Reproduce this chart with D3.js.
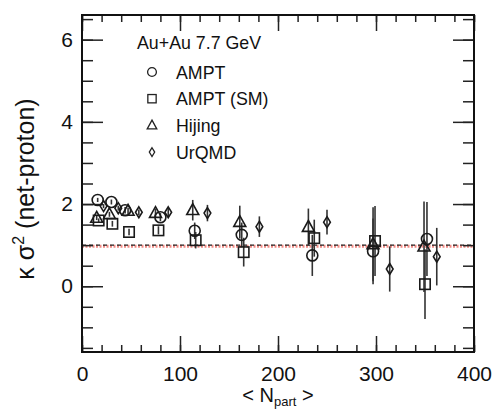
<!DOCTYPE html>
<html><head><meta charset="utf-8">
<script src="https://cdn.jsdelivr.net/npm/d3@7"></script>
<style>body{margin:0;background:#fff}svg{display:block}text{font-family:"Liberation Sans",Arial,sans-serif;fill:#111}</style>
</head><body>
<svg id="c" width="495" height="412"></svg>
<script>
// ---- data ----
const amptN   = [16, 30, 44, 80, 115, 163, 235, 297, 352];
const amptV   = [2.1, 2.05, 1.85, 1.68, 1.35, 1.25, 0.75, 0.85, 1.15];
const amptE   = [0.05, 0.06, 0.08, 0.1, 0.2, 0.3, 0.5, 0.8, 0.9];

const smN     = [17, 31, 48, 78, 116, 165, 237, 299, 350];
const smV     = [1.6, 1.52, 1.32, 1.36, 1.12, 0.83, 1.17, 1.1, 0.05];
const smE     = [0.05, 0.07, 0.08, 0.1, 0.2, 0.35, 0.45, 0.85, 0.85];

const hijN    = [15, 28, 47, 75, 113, 161, 231, 297, 349];
const hijV    = [1.66, 1.75, 1.83, 1.78, 1.85, 1.56, 1.44, 1.02, 0.96];
const hijE    = [0.05, 0.06, 0.08, 0.1, 0.25, 0.4, 0.45, 0.9, 1.1];

const urqN    = [22, 37, 58, 88, 128, 181, 250, 314, 362];
const urqV    = [1.95, 1.9, 1.8, 1.8, 1.78, 1.45, 1.56, 0.42, 0.72];
const urqE    = [0.05, 0.06, 0.07, 0.1, 0.2, 0.25, 0.3, 0.55, 0.7];

const refLine = 1.0;
const xTicks = [0, 100, 200, 300, 400];
const yTicks = [0, 2, 4, 6];
const seriesNames = ["AMPT", "AMPT (SM)", "Hijing", "UrQMD"];
const title = "Au+Au 7.7 GeV";

// ---- layout ----
const L = 82, R = 474, T = 15, B = 352;
const svg = d3.select("#c");
const x = d3.scaleLinear().domain([0, 400]).range([L, R]);
const y = d3.scaleLinear().domain([-1.6, 6.6]).range([B, T]);

// reference line
svg.append("line").attr("x1", L).attr("x2", R).attr("y1", y(refLine)+1).attr("y2", y(refLine)+1)
  .attr("stroke", "#f08a84").attr("stroke-width", 3).attr("stroke-dasharray", "2,1.5");
svg.append("line").attr("x1", L).attr("x2", R).attr("y1", y(refLine)).attr("y2", y(refLine))
  .attr("stroke", "#222").attr("stroke-width", 1.4).attr("stroke-dasharray", "4,3");

// axes
const minorX = d3.range(0, 401, 20), minorY = d3.range(-1.5, 6.51, 0.5);
function axisG(gen, tx, ty) { return svg.append("g").attr("transform", `translate(${tx},${ty})`).call(gen); }
const style = g => { g.select(".domain").remove(); g.selectAll("line").attr("stroke", "#222").attr("stroke-width", 1.5); };
// bottom
axisG(d3.axisTop(x).tickValues(minorX).tickSize(7).tickFormat(""), 0, B).call(style);
axisG(d3.axisTop(x).tickValues(xTicks).tickSize(16).tickFormat(""), 0, B).call(style);
// top
axisG(d3.axisBottom(x).tickValues(minorX).tickSize(7).tickFormat(""), 0, T).call(style);
axisG(d3.axisBottom(x).tickValues(xTicks).tickSize(16).tickFormat(""), 0, T).call(style);
// left
axisG(d3.axisRight(y).tickValues(minorY).tickSize(11).tickFormat(""), L, 0).call(style);
axisG(d3.axisRight(y).tickValues(yTicks).tickSize(21).tickFormat(""), L, 0).call(style);
// right
axisG(d3.axisLeft(y).tickValues(minorY).tickSize(11).tickFormat(""), R, 0).call(style);
axisG(d3.axisLeft(y).tickValues(yTicks).tickSize(21).tickFormat(""), R, 0).call(style);
// labels
const gx = axisG(d3.axisBottom(x).tickValues(xTicks).tickSize(0).tickPadding(14), 0, B);
gx.select(".domain").remove();
gx.selectAll("text").attr("font-size", 21).attr("font-family", "Liberation Sans, Arial").attr("fill", "#111");
const gy = axisG(d3.axisLeft(y).tickValues(yTicks).tickSize(0).tickPadding(9), L, 0);
gy.select(".domain").remove();
gy.selectAll("text").attr("font-size", 21).attr("font-family", "Liberation Sans, Arial").attr("fill", "#111");

// frame
svg.append("rect").attr("x", L).attr("y", T).attr("width", R-L).attr("height", B-T)
  .attr("fill", "none").attr("stroke", "#111").attr("stroke-width", 2);

// markers
const sym = {
  circle: (g, r) => g.append("circle").attr("r", r),
  square: (g, r) => g.append("rect").attr("x", -r).attr("y", -r).attr("width", 2*r).attr("height", 2*r),
  triangle: (g, r) => g.append("path").attr("d", `M0,${-r*1.15}L${r*1.05},${r*0.75}L${-r*1.05},${r*0.75}Z`),
  diamond: (g, r) => g.append("path").attr("d", `M0,${-r*1.3}L${r*0.8},0L0,${r*1.3}L${-r*0.8},0Z`)
};
const series = [
  {N: amptN, V: amptV, E: amptE, s: "circle", r: 5.5},
  {N: smN, V: smV, E: smE, s: "square", r: 5.2},
  {N: hijN, V: hijV, E: hijE, s: "triangle", r: 5.7},
  {N: urqN, V: urqV, E: urqE, s: "diamond", r: 4.2}
];
const data = series.map(se => se.N.map((n, i) => ({n, v: se.V[i], e: se.E[i], s: se.s, r: se.r})));
// error bars first
data.flat().forEach(d => {
  svg.append("line").attr("x1", x(d.n)).attr("x2", x(d.n)).attr("y1", y(d.v - d.e)).attr("y2", y(d.v + d.e))
    .attr("stroke", "#333").attr("stroke-width", 1.6);
});
data.forEach(arr => arr.forEach(d => {
  const g = svg.append("g").attr("transform", `translate(${x(d.n)},${y(d.v)})`);
  sym[d.s](g, d.r).attr("fill", "none").attr("stroke", "#1a1a1a").attr("stroke-width", 1.6);
}));

// legend
svg.append("text").attr("x", 137).attr("y", 49).attr("font-size", 17.8).text(title);
seriesNames.forEach((nm, i) => {
  const cy = 72 + i * 26.7;
  const g = svg.append("g").attr("transform", `translate(152,${cy})`);
  sym[series[i].s](g, series[i].r * 0.8).attr("fill", "none").attr("stroke", "#222").attr("stroke-width", 1.3);
  svg.append("text").attr("x", 176).attr("y", cy + 6.5).attr("font-size", 17.8).text(nm);
});

// axis titles
const xt = svg.append("text").attr("x", 278).attr("y", 402).attr("text-anchor", "middle").attr("font-size", 20);
xt.append("tspan").text("< N");
xt.append("tspan").attr("font-size", 13).attr("dy", 4).text("part");
xt.append("tspan").attr("dy", -4).text(" >");
const yt = svg.append("text").attr("transform", "translate(34,189) rotate(-90)").attr("text-anchor", "middle").attr("font-size", 25);
yt.append("tspan").text("κ σ");
yt.append("tspan").attr("font-size", 16).attr("dy", -10).text("2");
yt.append("tspan").attr("dy", 10).text(" (net-proton)");
</script>
</body></html>
